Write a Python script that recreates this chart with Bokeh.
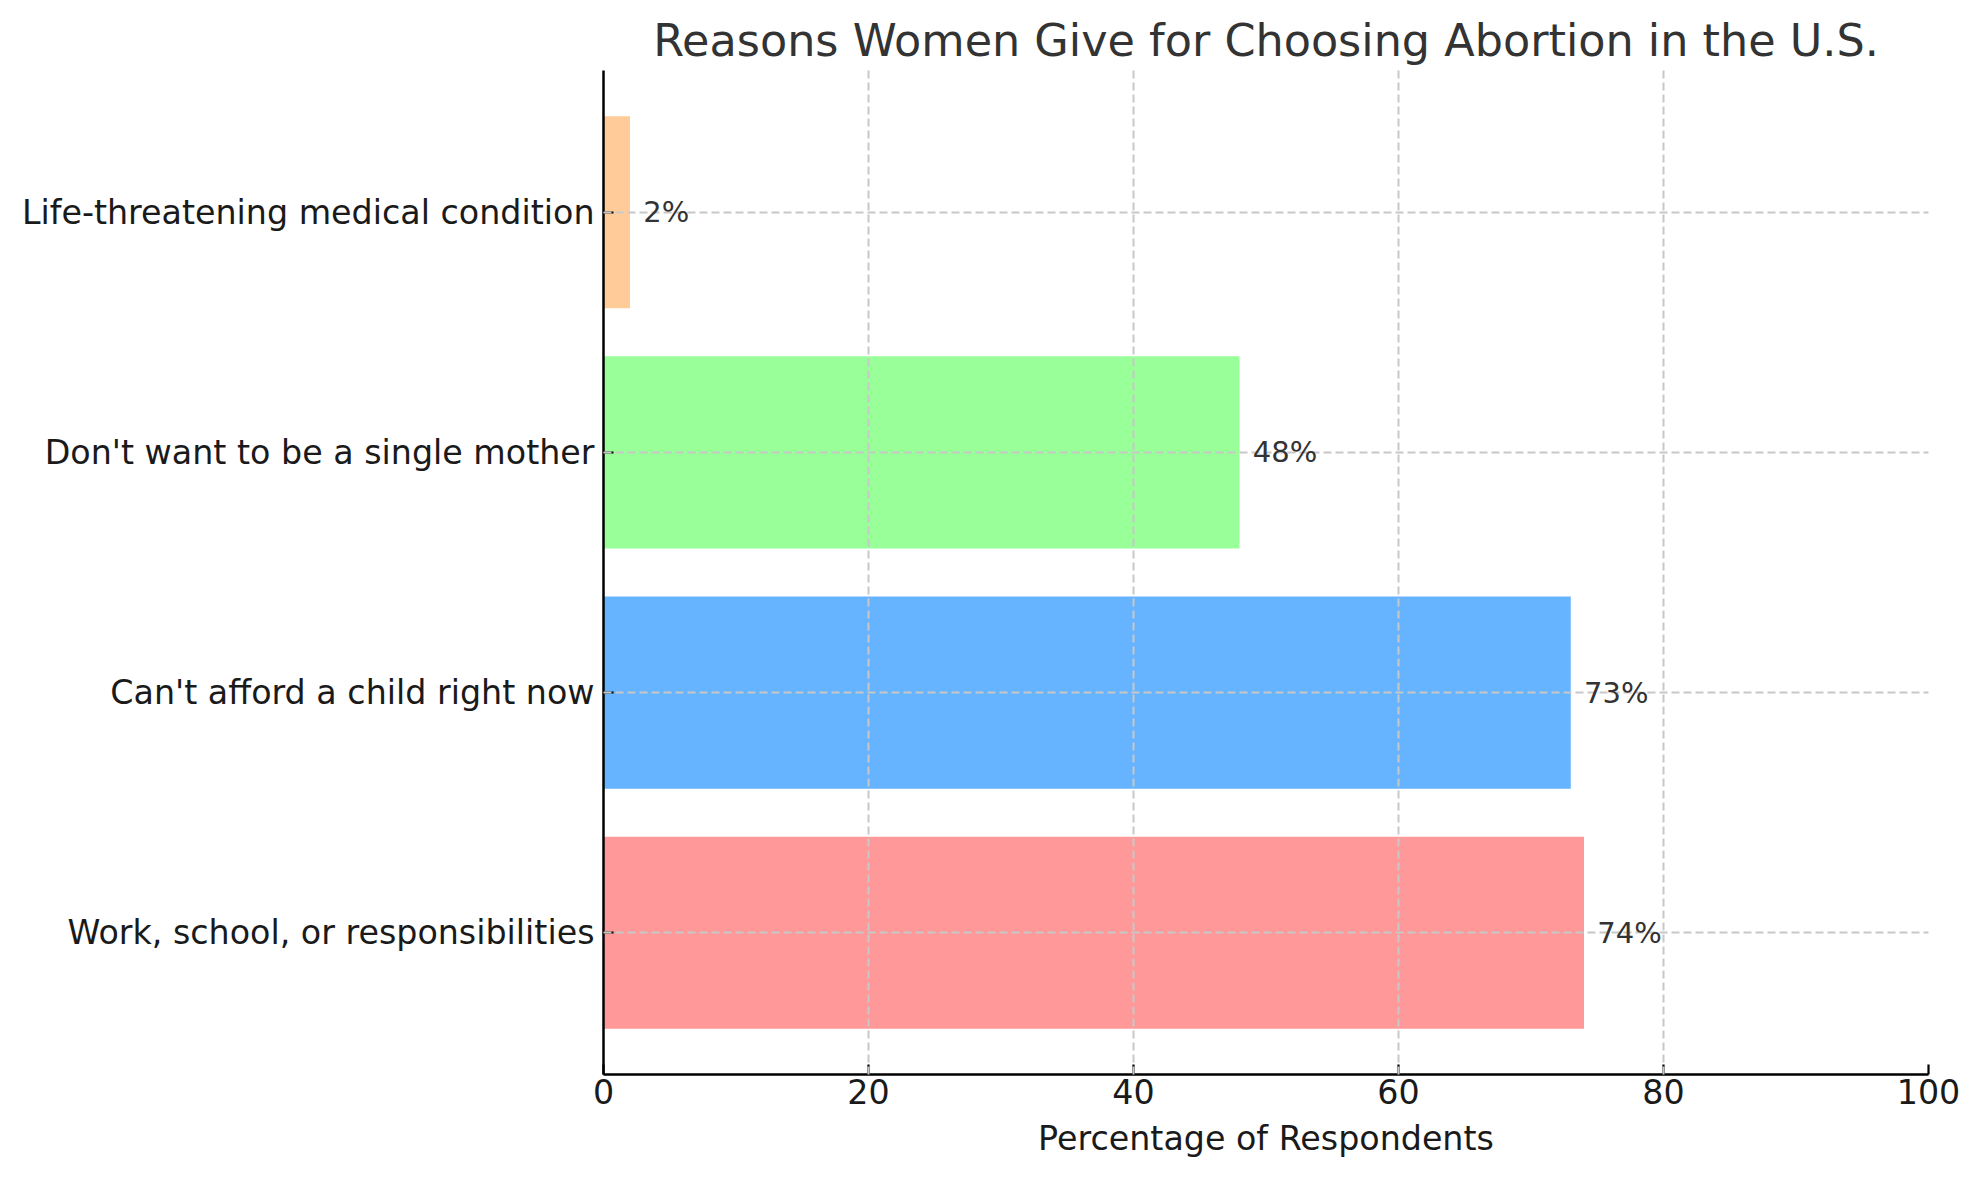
from bokeh.plotting import figure
from bokeh.models import Range1d, FixedTicker, ColumnDataSource, LabelSet
from bokeh.core.properties import value
from bokeh.embed import file_html
from bokeh.resources import INLINE

categories = ["Work, school, or responsibilities", "Can't afford a child right now",
              "Don't want to be a single mother", "Life-threatening medical condition"]
values = [74, 73, 48, 2]
colors = ["#ff9999", "#66b3ff", "#99ff99", "#ffcc99"]
x_ticks = [0, 20, 40, 60, 80, 100]

FONT = "DejaVu Sans"
ypos = list(range(len(categories)))

src = ColumnDataSource(dict(
    y=ypos, v=values, c=colors,
    lx=[v + 1 for v in values],
    lab=[f"{v}%" for v in values],
))

p = figure(width=1963, height=1164, output_backend="svg", toolbar_location=None,
           x_range=Range1d(0, 100), y_range=Range1d(-0.59, 3.59),
           min_border_left=603, min_border_right=35, min_border_top=70, min_border_bottom=90,
           title="Reasons Women Give for Choosing Abortion in the U.S.")
p.outline_line_color = None
p.background_fill_color = "white"
p.border_fill_color = "white"

p.hbar(y="y", right="v", left=0, height=0.8, fill_color="c", line_color=None, source=src)

labels = LabelSet(x="lx", y="y", text="lab", source=src, text_align="left",
                  text_baseline="middle", text_font=value(FONT), text_font_size=value("29px"),
                  text_color=value("#333333"))
p.add_layout(labels)

p.title.text_font = FONT
p.title.text_font_size = "44.5px"
p.title.text_font_style = "normal"
p.title.text_color = "#333333"
p.title.align = "center"
p.title.standoff = 10

p.xaxis.ticker = FixedTicker(ticks=x_ticks)
p.yaxis.ticker = FixedTicker(ticks=ypos)
p.yaxis.major_label_overrides = {i: c for i, c in enumerate(categories)}
p.xaxis.axis_label = "Percentage of Respondents"

for ax in (p.xaxis, p.yaxis):
    ax.axis_line_color = "black"
    ax.axis_line_width = 2.5
    ax.major_tick_in = 10
    ax.major_tick_out = 0
    ax.major_tick_line_width = 2.2
    ax.major_tick_line_color = "black"
    ax.minor_tick_line_color = None
    ax.major_label_text_font = FONT
    ax.major_label_text_font_size = "33.3px"
    ax.major_label_text_color = "#1a1a1a"
    ax.axis_label_text_font = FONT
    ax.axis_label_text_font_size = "33.3px"
    ax.axis_label_text_font_style = "normal"
    ax.axis_label_text_color = "#1a1a1a"

p.yaxis.major_label_standoff = 9
p.xaxis.major_label_standoff = 4
p.xaxis.axis_label_standoff = 12

for g in (p.xgrid, p.ygrid):
    g.grid_line_color = "#c8c8c8"
    g.grid_line_width = 2
    g.grid_line_dash = "8 4"
    g.level = "guide"
p.xgrid.ticker = FixedTicker(ticks=x_ticks)
p.ygrid.ticker = FixedTicker(ticks=ypos)

open("out.html", "w").write(file_html(p, INLINE))
